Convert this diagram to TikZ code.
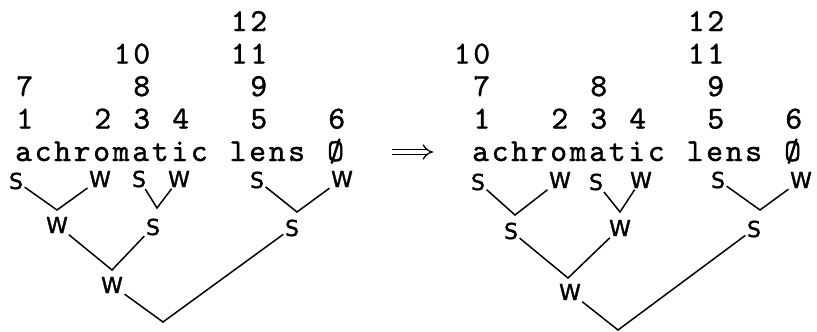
\documentclass[tikz,border=0pt]{standalone}
\usepackage{fontspec}
\usetikzlibrary{arrows.meta}
\newfontfamily\typefont[Extension=.otf, LetterSpace=8.5, FakeBold=1.2]{lmmono10-regular}
\newfontfamily\penfont[FakeBold=1.5]{DejaVu Sans}
\tikzset{
  digit/.style={font=\typefont\fontsize{32}{32}\selectfont, anchor=base, inner sep=0pt},
  word/.style={digit, anchor=base west},
  stress/.style={font=\penfont\fontsize{22}{22}\selectfont, inner sep=1.5pt},
  branch/.style={line width=1.5pt},
  implies/.style={double, double distance=4pt, line width=1.3pt, -{Implies[length=7pt]}}
}
\begin{document}
\begin{tikzpicture}[x=1pt, y=-1pt]
  \useasboundingbox (0,0) rectangle (817,332);
  % left: the word and its numbers
  \node[word] (lach) at (15,161) {achromatic};
  \node[word] (llens) at (229.5,161) {lens};
  \node[word] (lnull) at (327,161) {Ø};
  \node[digit] (l1) at (24.75,128.5) {1};  \node[digit] (l2) at (102.75,128.5) {2};
  \node[digit] (l3) at (141.75,128.5) {3}; \node[digit] (l4) at (180.75,128.5) {4};
  \node[digit] (l5) at (258.75,128.5) {5}; \node[digit] (l6) at (336.75,128.5) {6};
  \node[digit] (l7) at (24.75,96) {7};     \node[digit] (l8) at (141.75,96) {8};
  \node[digit] (l9) at (258.75,96) {9};
  \node[digit] (l10) at (132,63.5) {10};   \node[digit] (l11) at (249,63.5) {11};
  \node[digit] (l12) at (249,31) {12};
  % left: tree
  \node[stress] (ls1) at (16,181) {S};  \node[stress] (lw2) at (100,179) {W};
  \node[stress] (ls3) at (139,179) {S}; \node[stress] (lw4) at (179,179) {W};
  \node[stress] (ls5) at (257,180) {S}; \node[stress] (lw6) at (342,179) {W};
  \coordinate (lv1) at (57,210); \coordinate (lv2) at (157,208); \coordinate (lv3) at (297,212);
  \node[stress] (lw7) at (57,225) {W};  \node[stress] (ls8) at (153,227) {S};
  \node[stress] (ls9) at (292,228) {S};
  \coordinate (lv4) at (112,270);
  \node[stress] (lw10) at (112,285) {W};
  \coordinate (lv5) at (163,322);
  \draw[branch] (ls1) -- (lv1) -- (lw2);
  \draw[branch] (ls3) -- (lv2) -- (lw4);
  \draw[branch] (ls5) -- (lv3) -- (lw6);
  \draw[branch] (lw7) -- (lv4) -- (ls8);
  \draw[branch] (lw10) -- (lv5) -- (ls9);
  % arrow
  \coordinate (arrs) at (392,152); \coordinate (arre) at (433,152);
  \draw[implies] (arrs) -- (arre);
  % right: the word and its numbers
  \node[word] (rach) at (472,161) {achromatic};
  \node[word] (rlens) at (686.5,161) {lens};
  \node[word] (rnull) at (784,161) {Ø};
  \node[digit] (r1) at (481.75,128.5) {1};  \node[digit] (r2) at (559.75,128.5) {2};
  \node[digit] (r3) at (598.75,128.5) {3};  \node[digit] (r4) at (637.75,128.5) {4};
  \node[digit] (r5) at (715.75,128.5) {5};  \node[digit] (r6) at (793.75,128.5) {6};
  \node[digit] (r7) at (481.75,96) {7};     \node[digit] (r8) at (598.75,96) {8};
  \node[digit] (r9) at (715.75,96) {9};
  \node[digit] (r10) at (472,63.5) {10};    \node[digit] (r11) at (706,63.5) {11};
  \node[digit] (r12) at (706,31) {12};
  % right: tree
  \node[stress] (rs1) at (478,182) {S}; \node[stress] (rw2) at (560,180) {W};
  \node[stress] (rs3) at (596,182) {S}; \node[stress] (rw4) at (641,180) {W};
  \node[stress] (rs5) at (718,180) {S}; \node[stress] (rw6) at (801,180) {W};
  \coordinate (rv1) at (515,215); \coordinate (rv2) at (620,212); \coordinate (rv3) at (760,210);
  \node[stress] (rs7) at (511,231) {S}; \node[stress] (rw8) at (620,228) {W};
  \node[stress] (rs9) at (754,229) {S};
  \coordinate (rv4) at (568,278);
  \node[stress] (rw10) at (570,292) {W};
  \coordinate (rv5) at (618,330);
  \draw[branch] (rs1) -- (rv1) -- (rw2);
  \draw[branch] (rs3) -- (rv2) -- (rw4);
  \draw[branch] (rs5) -- (rv3) -- (rw6);
  \draw[branch] (rs7) -- (rv4) -- (rw8);
  \draw[branch] (rw10) -- (rv5) -- (rs9);
\end{tikzpicture}
\end{document}
